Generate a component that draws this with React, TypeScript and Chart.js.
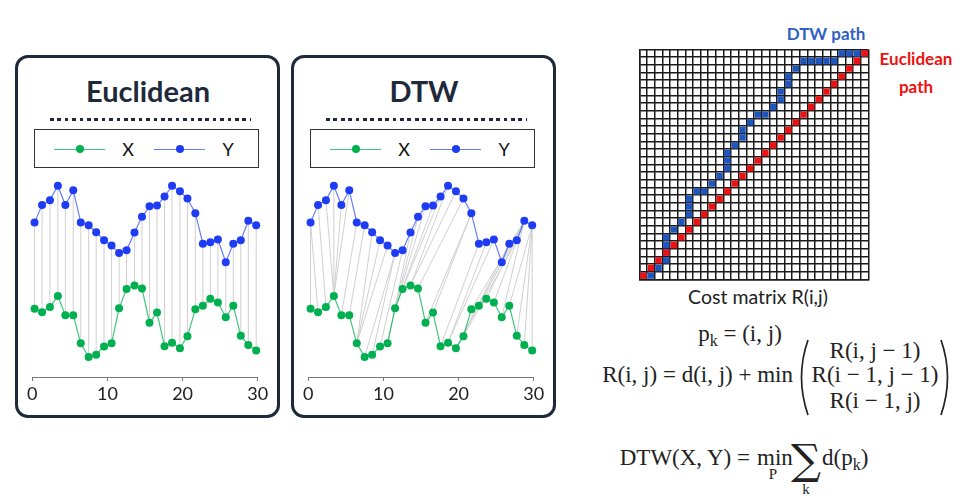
import React, { useEffect, useRef } from "react";
import { Chart, registerables } from "chart.js";
Chart.register(...registerables);

// ---- data ----
const timeSteps = [0.3, 1.3, 2.35, 3.4, 4.4, 5.45, 6.45, 7.5, 8.5, 9.55, 10.55, 11.55, 12.55, 13.6, 14.6, 15.6, 16.6, 17.6, 18.6, 19.65, 20.65, 21.7, 22.7, 23.7, 24.7, 25.75, 26.75, 27.75, 28.75, 29.8];
const seriesX = [1.88, 1.77, 1.93, 2.27, 1.68, 1.68, 0.82, 0.4, 0.47, 0.72, 0.82, 1.89, 2.48, 2.59, 2.5, 1.45, 1.76, 0.73, 0.84, 0.67, 1.04, 1.86, 1.97, 2.18, 2.07, 1.62, 1.97, 1.05, 0.77, 0.6];
const seriesY = [4.52, 5.05, 5.2, 5.64, 5.05, 5.5, 4.52, 4.43, 4.22, 3.97, 3.81, 3.58, 3.67, 4.21, 4.69, 5.01, 5.04, 5.31, 5.64, 5.47, 5.25, 4.8, 3.87, 3.91, 4.0, 3.3, 3.87, 3.97, 4.57, 4.43];
// DTW warping path: [index in X, index in Y]
const dtwPath: [number, number][] = [
  [0, 0], [1, 0], [2, 1], [3, 2], [3, 3], [3, 4], [3, 5], [4, 6], [5, 7], [6, 8], [6, 9], [6, 10],
  [7, 11], [8, 11], [9, 12], [10, 13], [11, 14], [11, 15], [11, 16], [12, 17], [13, 18], [13, 19],
  [14, 20], [15, 21], [16, 21], [17, 22], [18, 23], [18, 24], [19, 25], [19, 26], [20, 27],
  [21, 28], [22, 28], [23, 28], [24, 28], [25, 28], [26, 29], [27, 29], [28, 29], [29, 29],
];
const euclidPath: [number, number][] = seriesX.map((_, i) => [i, i]);
const xTicks = [0, 10, 20, 30];
const gridSize = 30;

const GREEN = "#00b050";
const GREEN_LINE = "rgba(0,176,80,0.75)";
const BLUE = "#1f3cf5";
const BLUE_LINE = "rgba(40,70,245,0.7)";
const NAVY = "#1e2a3b";
const SANS = "Lato, 'Open Sans', sans-serif";
const SERIF = "'Liberation Serif', 'DejaVu Serif', serif";

function SeriesChart({ pairs, left, top }: { pairs: [number, number][]; left: number; top: number }) {
  const ref = useRef<HTMLCanvasElement>(null);
  useEffect(() => {
    const links: any[] = [];
    pairs.forEach(([g, b]) => {
      links.push({ x: timeSteps[g], y: seriesX[g] }, { x: timeSteps[b], y: seriesY[b] }, { x: timeSteps[b], y: null });
    });
    const chart = new Chart(ref.current!, {
      type: "scatter",
      data: {
        datasets: [
          {
            label: "Y",
            data: timeSteps.map((t, i) => ({ x: t, y: seriesY[i] })),
            showLine: true,
            borderColor: BLUE_LINE,
            borderWidth: 1.2,
            pointBackgroundColor: BLUE,
            pointBorderWidth: 0,
            pointRadius: 4,
            clip: false,
          } as any,
          {
            label: "X",
            data: timeSteps.map((t, i) => ({ x: t, y: seriesX[i] })),
            showLine: true,
            borderColor: GREEN_LINE,
            borderWidth: 1.2,
            pointBackgroundColor: GREEN,
            pointBorderWidth: 0,
            pointRadius: 4,
            clip: false,
          } as any,
          {
            label: "links",
            data: links,
            showLine: true,
            spanGaps: false,
            borderColor: "#cfcfcf",
            borderWidth: 1,
            pointRadius: 0,
            clip: false,
          } as any,
        ],
      },
      options: {
        animation: false,
        responsive: false,
        events: [],
        layout: { padding: { left: 12.3, right: 17.3, top: 0, bottom: 0 } },
        plugins: { legend: { display: false }, tooltip: { enabled: false } },
        scales: {
          x: {
            type: "linear",
            min: 0,
            max: 30,
            afterBuildTicks: (s: any) => {
              s.ticks = xTicks.map((v) => ({ value: v }));
            },
            afterFit: (s: any) => {
              s.height = 33;
            },
            ticks: { font: { family: SANS, size: 18 }, color: "#222", padding: 2 },
            grid: { drawOnChartArea: false, drawTicks: true, tickLength: 4, color: "#777" },
            border: { display: true, color: "#777", width: 1 },
          },
          y: { display: false, min: -0.21, max: 6 },
        },
      } as any,
    });
    return () => chart.destroy();
  }, []);
  return <canvas ref={ref} width={255} height={240} style={{ position: "absolute", left, top }} />;
}

function MatrixChart() {
  const ref = useRef<HTMLCanvasElement>(null);
  useEffect(() => {
    const cell = (p: [number, number]) => ({ x: p[0] + 0.5, y: p[1] + 0.5 });
    const axis = (isX: boolean) => ({
      type: "linear",
      min: 0,
      max: gridSize,
      ticks: { display: false, stepSize: 1, maxTicksLimit: 100 },
      grid: { color: "#1a1a1a", lineWidth: 1.5, drawTicks: false },
      border: { display: true, color: "#1a1a1a", width: 1.5 },
      afterFit: (s: any) => {
        if (isX) s.height = 0;
        else s.width = 0;
      },
    });
    const chart = new Chart(ref.current!, {
      type: "scatter",
      data: {
        datasets: [
          {
            label: "Euclidean path",
            data: euclidPath.map(cell),
            pointStyle: "rect",
            pointRadius: 4.5,
            pointBorderWidth: 0,
            pointBackgroundColor: "#ee1111",
          } as any,
          {
            label: "DTW path",
            data: dtwPath.map(cell),
            pointStyle: "rect",
            pointRadius: 4.5,
            pointBorderWidth: 0,
            pointBackgroundColor: "#1f56bd",
          } as any,
        ],
      },
      options: {
        animation: false,
        responsive: false,
        events: [],
        layout: { padding: 2 },
        plugins: { legend: { display: false }, tooltip: { enabled: false } },
        scales: { x: axis(true), y: axis(false) },
      } as any,
    });
    return () => chart.destroy();
  }, []);
  return <canvas ref={ref} width={238} height={239} style={{ position: "absolute", left: 635, top: 45 }} />;
}

function Txt({ x, y, children, style, anchor = "center" }: any) {
  const tx = anchor === "center" ? "-50%" : anchor === "right" ? "-100%" : "0";
  return (
    <div
      style={{
        position: "absolute",
        left: x,
        top: y,
        transform: `translate(${tx},-50%)`,
        whiteSpace: "nowrap",
        lineHeight: 1,
        ...style,
      }}
    >
      {children}
    </div>
  );
}

function Panel({ dx, title, pairs }: { dx: number; title: string; pairs: [number, number][] }) {
  const legendItem = (x: number, color: string, line: string, label: string) => (
    <>
      <div style={{ position: "absolute", left: dx + x, top: 148.5, width: 51, height: 1.3, background: line }} />
      <div style={{ position: "absolute", left: dx + x + 21.5, top: 145, width: 8, height: 8, borderRadius: 4, background: color }} />
      <Txt x={dx + x + 74} y={149} style={{ fontFamily: SANS, fontSize: 18, color: "#111" }}>{label}</Txt>
    </>
  );
  return (
    <>
      <div
        style={{
          position: "absolute",
          left: dx + 15,
          top: 55,
          width: 265,
          height: 363,
          boxSizing: "border-box",
          border: `3px solid ${NAVY}`,
          borderRadius: 13,
        }}
      />
      <Txt x={dx + 148} y={90} style={{ fontFamily: SANS, fontWeight: 700, fontSize: 29, color: NAVY }}>{title}</Txt>
      <div
        style={{
          position: "absolute",
          left: dx + 50,
          top: 117.5,
          width: 201,
          height: 3.5,
          background: `repeating-linear-gradient(90deg, ${NAVY} 0 3.7px, transparent 3.7px 7.4px)`,
        }}
      />
      <div
        style={{
          position: "absolute",
          left: dx + 34,
          top: 129,
          width: 225,
          height: 39,
          boxSizing: "border-box",
          border: "1.5px solid #333",
        }}
      />
      {legendItem(54, GREEN, GREEN_LINE, "X")}
      {legendItem(154, BLUE, BLUE_LINE, "Y")}
      <SeriesChart pairs={pairs} left={dx + 20} top={170} />
    </>
  );
}

function Paren({ x, flip }: { x: number; flip?: boolean }) {
  const d = flip ? "M 2 1 Q 15 38 2 76" : "M 13 1 Q 0 38 13 76";
  return (
    <svg width={15} height={77} style={{ position: "absolute", left: x, top: 339 }}>
      <path d={d} stroke="#222" strokeWidth={1.7} fill="none" />
    </svg>
  );
}

export default function App() {
  const f = { fontFamily: SERIF, fontSize: 23, color: "#222" };
  const sub = { fontSize: "0.7em", position: "relative" as const, top: "0.28em" };
  return (
    <div style={{ position: "absolute", left: 0, top: 0, width: 973, height: 502, background: "#fff", overflow: "hidden" }}>
      <Panel dx={0} title="Euclidean" pairs={euclidPath} />
      <Panel dx={276} title="DTW" pairs={dtwPath} />

      <MatrixChart />
      <Txt x={826} y={33} style={{ fontFamily: SANS, fontWeight: 700, fontSize: 17, color: "#2f5fc4" }}>DTW path</Txt>
      <Txt x={916} y={58} style={{ fontFamily: SANS, fontWeight: 700, fontSize: 17, color: "#ee1111" }}>Euclidean</Txt>
      <Txt x={916} y={86} style={{ fontFamily: SANS, fontWeight: 700, fontSize: 17, color: "#ee1111" }}>path</Txt>
      <Txt x={758} y={297} style={{ fontFamily: SANS, fontSize: 19.5, color: "#222" }}>Cost matrix R(i,j)</Txt>

      <Txt x={740} y={333} style={f}>
        p<span style={sub}>k</span> = (i, j)
      </Txt>
      <Txt x={793} y={374} anchor="right" style={f}>R(i, j) = d(i, j) + min</Txt>
      <Paren x={795} />
      <Txt x={875} y={350} style={f}>R(i, j − 1)</Txt>
      <Txt x={875} y={374} style={f}>R(i − 1, j − 1)</Txt>
      <Txt x={875} y={400} style={f}>R(i − 1, j)</Txt>
      <Paren x={939} flip />

      <Txt x={750} y={457} anchor="right" style={f}>DTW(X, Y) =</Txt>
      <Txt x={757} y={457} anchor="left" style={f}>min</Txt>
      <Txt x={773} y={474} style={{ ...f, fontSize: 15 }}>P</Txt>
      <Txt x={806} y={460} style={{ ...f, fontFamily: "'DejaVu Serif', serif", fontSize: 42 }}>∑</Txt>
      <Txt x={806} y={489} style={{ ...f, fontSize: 15 }}>k</Txt>
      <Txt x={822} y={457} anchor="left" style={f}>
        d(p<span style={sub}>k</span>)
      </Txt>
    </div>
  );
}
